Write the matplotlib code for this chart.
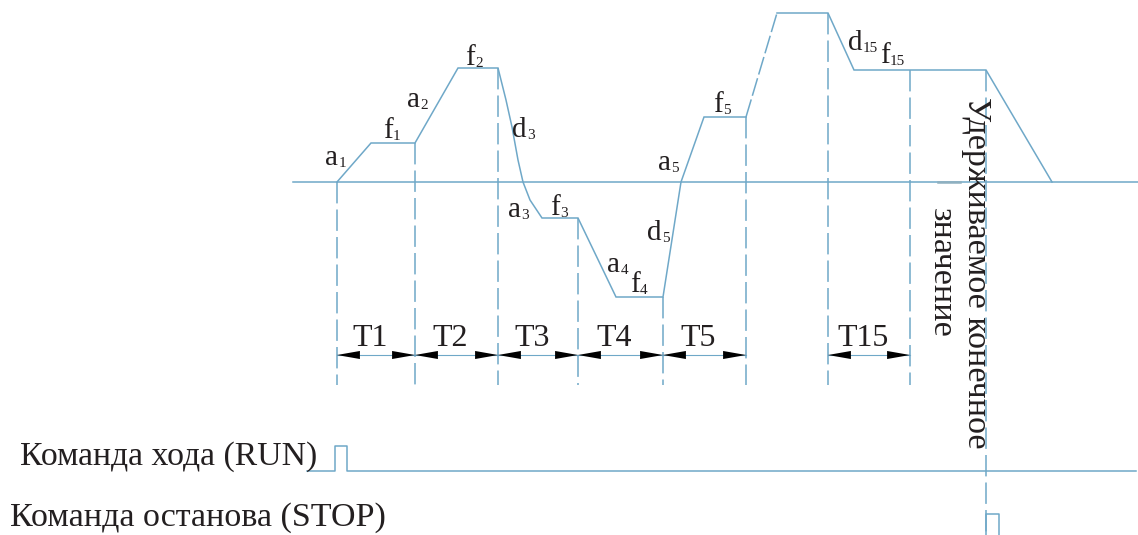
import matplotlib
matplotlib.use("Agg")
import matplotlib.pyplot as plt

# ---------------- data ----------------
# frequency profile (time units along x, frequency with 0 at the base line)
profile_t = [337, 371, 415, 458, 498, 506, 512, 518, 523, 530, 542, 578, 616, 663, 681, 704, 746]
profile_f = [0, 39, 39, 114, 114, 82, 55, 22, 0, -18, -36, -36, -115, -115, 0, 65, 65]
skip_t = [746, 777]          # omitted stages (dashed)
skip_f = [65, 169]
tail_t = [777, 828, 854, 986, 1052]
tail_f = [169, 169, 112, 112, 0]

# stage boundaries and the level where each vertical marker starts
bound_t = [337, 415, 498, 578, 663, 746, 828, 910]
bound_top = [0, 39, 114, -36, -115, 65, 169, 112]
stop_t = 986

# dimension spans
spans = [(337, 415, "T1"), (415, 498, "T2"), (498, 578, "T3"),
         (578, 663, "T4"), (663, 746, "T5"), (828, 910, "T15")]

# segment labels: letter, subscript
seg_labels = ["a", "f", "a", "f", "d", "a", "f", "a", "f", "d", "a", "f", "d", "f"]
seg_subs = ["1", "1", "2", "2", "3", "3", "3", "4", "4", "5", "5", "5", "15", "15"]

# RUN / STOP command pulses
run_t = [307, 335, 335, 347, 347, 1136]
run_v = [0, 0, 1, 1, 0, 0]
stop_pt = [986, 986, 999, 999]
stop_v = [0, 1, 1, 0]

run_label = "Команда хода (RUN)"
stop_label = "Команда останова (STOP)"
hold_label1 = "Удерживаемое конечное"
hold_label2 = "значение"

# ---------------- layout ----------------
LINE = "#6fa8c8"
TXT = "#231f20"
base_x0, base_x1 = 293, 1138
dim_level = -173
marker_bottom = -203
run_level, run_height = -289, 25
stop_level, stop_height = -353, 21
label_pos = [(325, 17), (383, 44), (407, 75), (465, 117), (512, 45), (508, -35),
             (550, -33), (607, -90), (630, -110), (647, -58), (658, 12), (713, 70),
             (848, 132), (880, 119)]

fig = plt.figure(figsize=(11.38, 5.35), dpi=100)
ax = fig.add_axes([0, 0, 1, 1])
ax.set_xlim(0, 1138)
ax.set_ylim(-353, 182)
ax.axis("off")

lw = 1.1
dash = (0, (14, 4))

# base line
ax.plot([base_x0, base_x1], [0, 0], color=LINE, lw=lw)
ax.plot([938, 960], [0.5, 0.5], color="#8fb0c0", lw=1.8)

# profile
ax.plot(profile_t, profile_f, color=LINE, lw=lw, solid_joinstyle="miter")
ax.plot(skip_t, skip_f, color=LINE, lw=lw, linestyle=(0, (12, 2.5)))
ax.plot(tail_t, tail_f, color=LINE, lw=lw, solid_joinstyle="miter")

# vertical stage markers
for t, top in zip(bound_t, bound_top):
    ax.plot([t, t], [top, marker_bottom], color=LINE, lw=lw, linestyle=dash)
ax.plot([stop_t, stop_t], [112, stop_level], color=LINE, lw=lw, linestyle=dash)

# dimension arrows
for t0, t1, name in spans:
    ax.plot([t0, t1], [dim_level, dim_level], color=LINE, lw=0.8)
    for tip, back in ((t0, t0 + 23), (t1, t1 - 23)):
        ax.annotate("", xy=(tip, dim_level), xytext=(back, dim_level),
                    arrowprops=dict(arrowstyle="-|>,head_length=16.5,head_width=2.9",
                                    mutation_scale=1, color="black", lw=0,
                                    shrinkA=0, shrinkB=0))
    ax.text((t0 + t1) / 2 - 6, -164, name, ha="center", va="baseline",
            fontsize=23, family="Liberation Serif", color=TXT)

# segment labels with subscripts
for (x, y), lab, sub in zip(label_pos, seg_labels, seg_subs):
    t = ax.text(x, y, lab, ha="left", va="baseline", fontsize=21,
                family="Liberation Serif", color=TXT)
    ax.annotate(sub, xy=(1, 0), xycoords=t, xytext=(0.3, 1.0),
                textcoords="offset points", ha="left", va="bottom",
                fontsize=11, family="Liberation Serif", color=TXT)

# RUN / STOP signals
ax.plot(run_t, [run_level + v * run_height for v in run_v], color=LINE, lw=lw)
ax.plot(stop_pt, [stop_level + v * stop_height for v in stop_v], color=LINE, lw=lw)

ax.text(20, -283, run_label, ha="left", va="baseline", fontsize=24.3,
        family="Liberation Serif", color=TXT)
ax.text(10, -344, stop_label, ha="left", va="baseline", fontsize=24.5,
        family="Liberation Serif", color=TXT)

ax.text(976, 85, hold_label1, rotation=-90, ha="center", va="top", fontsize=24.5,
        family="Liberation Serif", color=TXT)
ax.text(941, -26, hold_label2, rotation=-90, ha="center", va="top", fontsize=24.5,
        family="Liberation Serif", color=TXT)

fig.savefig("out.png", dpi=100)
